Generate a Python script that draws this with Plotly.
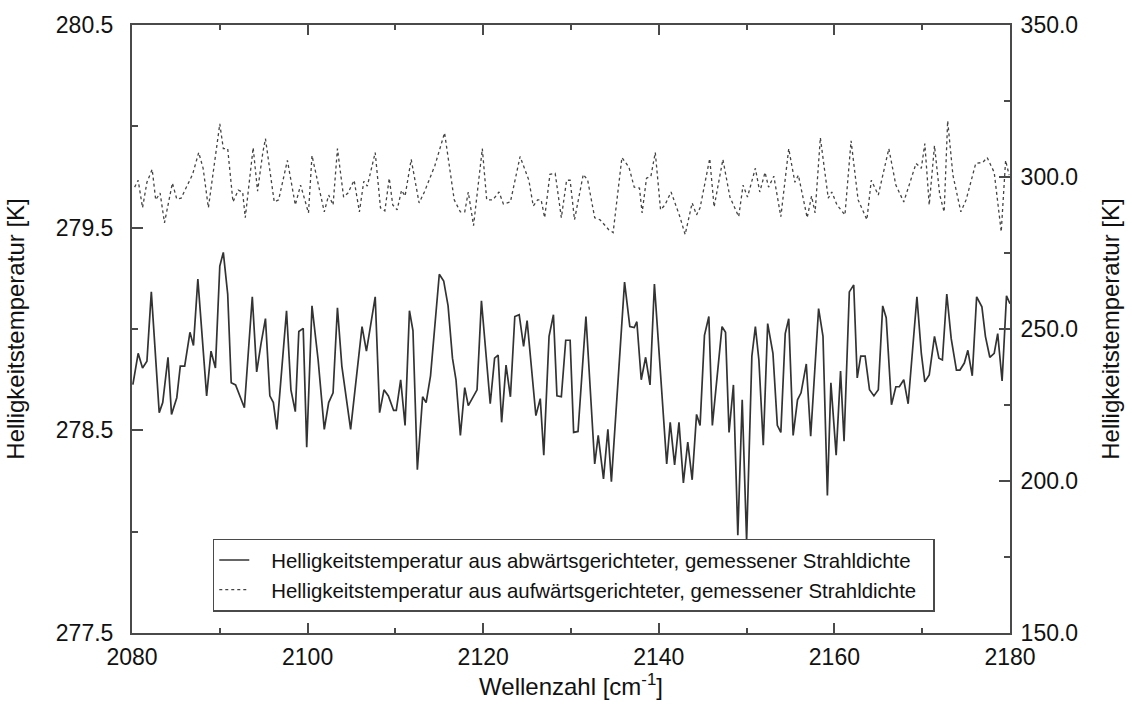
import plotly.graph_objects as go

# Brightness temperature from downward-looking measured radiance (right axis, K)
wn_down = [
    2080.1, 2080.7, 2081.2, 2081.7, 2082.2, 2083.1, 2083.5, 2084.1, 2084.5, 2085.1,
    2085.5, 2086.0, 2086.6, 2087.0, 2087.5, 2088.5, 2089.0, 2089.5, 2090.0, 2090.4,
    2090.9, 2091.3, 2091.8, 2092.3, 2092.8, 2093.7, 2094.2, 2094.7, 2095.2, 2095.7,
    2096.1, 2096.5, 2097.6, 2098.1, 2098.6, 2099.0, 2099.5, 2099.9, 2100.5, 2101.2,
    2101.9, 2102.4, 2102.9, 2103.4, 2103.9, 2104.9, 2106.2, 2106.7, 2107.7, 2108.2,
    2108.7, 2109.2, 2109.8, 2110.1, 2110.6, 2111.1, 2111.6, 2112.0, 2112.5, 2113.1,
    2113.5, 2114.0, 2115.0, 2115.5, 2116.0, 2116.5, 2116.9, 2117.4, 2117.9, 2118.3,
    2119.3, 2119.8, 2120.2, 2120.8, 2121.3, 2121.7, 2122.1, 2122.6, 2123.1, 2123.6,
    2124.1, 2124.6, 2125.0, 2126.0, 2126.5, 2126.9, 2127.5, 2128.0, 2128.4, 2128.9,
    2129.4, 2129.9, 2130.3, 2130.8, 2131.7, 2132.7, 2133.1, 2133.7, 2134.2, 2134.6,
    2136.1, 2136.7, 2137.2, 2137.5, 2138.0, 2138.5, 2139.0, 2139.5, 2140.9, 2141.3,
    2141.8, 2142.3, 2142.8, 2143.3, 2143.8, 2144.3, 2144.7, 2145.2, 2145.7, 2146.1,
    2147.2, 2147.6, 2148.0, 2148.5, 2149.0, 2149.5, 2150.0, 2150.6, 2151.0, 2151.4,
    2151.9, 2152.4, 2153.0, 2153.5, 2153.9, 2154.4, 2154.8, 2155.3, 2155.8, 2156.2,
    2156.8, 2157.3, 2158.2, 2158.7, 2159.2, 2159.6, 2160.2, 2160.7, 2161.1, 2161.7,
    2162.2, 2162.6, 2163.0, 2163.5, 2164.0, 2164.5, 2165.0, 2165.5, 2165.9, 2166.5,
    2167.0, 2167.4, 2167.9, 2168.4, 2169.4, 2169.9, 2170.3, 2170.8, 2171.4, 2171.9,
    2172.3, 2172.8, 2173.3, 2173.9, 2174.3, 2174.8, 2175.2, 2175.7, 2176.2, 2176.8,
    2177.2, 2177.7, 2178.2, 2178.6, 2179.1, 2179.6, 2180.0,
]
tb_down = [
    231.7, 242.0, 237.2, 239.4, 262.2, 222.5, 225.8, 240.7, 221.9, 227.4,
    237.8, 237.8, 248.9, 244.6, 266.4, 228.0, 242.7, 237.2, 270.7, 275.2,
    261.5, 232.3, 231.6, 228.0, 224.1, 260.6, 235.9, 245.3, 253.4, 228.0,
    225.8, 217.0, 256.0, 230.0, 222.8, 249.2, 250.2, 211.1, 257.6, 239.8,
    217.0, 225.8, 229.0, 257.0, 237.8, 217.0, 250.8, 242.7, 260.6, 222.5,
    230.0, 228.0, 223.2, 223.2, 233.3, 218.3, 256.0, 249.5, 203.7, 227.7,
    225.8, 234.6, 268.0, 265.8, 257.6, 240.4, 233.3, 215.0, 230.7, 224.8,
    230.0, 259.3, 246.3, 225.4, 240.4, 241.4, 219.3, 238.1, 227.7, 254.1,
    254.7, 244.3, 252.8, 221.5, 227.1, 208.5, 247.6, 254.7, 228.0, 227.7,
    246.3, 246.3, 216.0, 216.3, 254.1, 205.6, 215.0, 200.7, 217.0, 199.8,
    265.4, 250.8, 250.5, 252.4, 233.3, 240.7, 231.6, 264.8, 205.6, 219.3,
    205.3, 219.3, 199.4, 212.8, 200.4, 221.9, 218.3, 247.9, 254.1, 218.3,
    250.8, 248.9, 216.0, 231.6, 182.2, 226.7, 180.2, 241.1, 250.8, 239.8,
    211.8, 251.8, 242.0, 218.3, 216.0, 248.5, 253.4, 215.0, 226.7, 229.0,
    238.5, 214.7, 256.7, 247.6, 195.2, 232.3, 208.5, 236.2, 213.1, 262.2,
    264.5, 233.9, 241.1, 241.1, 230.0, 228.0, 230.0, 257.6, 253.7, 225.1,
    231.0, 231.0, 233.3, 225.4, 260.6, 242.0, 232.6, 234.9, 247.6, 240.4,
    239.8, 261.5, 246.9, 236.5, 236.5, 238.8, 243.0, 234.6, 260.6, 257.3,
    247.6, 240.7, 242.0, 248.5, 232.9, 260.9, 258.3,
]

# Brightness temperature from upward-looking measured radiance (left axis, K)
wn_up = [
    2080.3, 2080.7, 2081.2, 2081.7, 2082.3, 2082.7, 2083.2, 2083.7, 2084.6, 2085.1,
    2085.6, 2086.9, 2087.6, 2088.1, 2088.7, 2090.0, 2090.4, 2090.9, 2091.5, 2092.1,
    2092.6, 2092.9, 2093.8, 2094.3, 2094.9, 2095.2, 2096.2, 2096.7, 2097.7, 2098.6,
    2099.2, 2100.1, 2100.5, 2101.3, 2101.9, 2102.4, 2102.9, 2103.4, 2104.1, 2104.6,
    2105.3, 2105.9, 2106.4, 2106.8, 2107.7, 2108.3, 2108.8, 2109.3, 2109.7, 2110.2,
    2110.7, 2111.1, 2111.8, 2112.7, 2113.3, 2114.5, 2115.6, 2116.7, 2117.4, 2117.9,
    2118.3, 2118.9, 2119.9, 2120.4, 2121.1, 2121.8, 2122.3, 2123.1, 2124.2, 2125.2,
    2125.7, 2126.2, 2126.6, 2127.0, 2127.6, 2128.2, 2128.9, 2129.5, 2129.9, 2130.4,
    2131.4, 2131.9, 2132.7, 2133.3, 2134.3, 2134.8, 2135.8, 2136.6, 2137.2, 2137.8,
    2138.1, 2138.6, 2139.1, 2139.6, 2140.2, 2140.7, 2141.4, 2142.4, 2143.0, 2143.8,
    2144.3, 2144.7, 2145.8, 2146.3, 2147.3, 2148.1, 2149.1, 2149.6, 2150.1, 2151.0,
    2151.5, 2152.1, 2152.5, 2153.1, 2153.9, 2154.8, 2155.5, 2155.9, 2156.9, 2157.4,
    2157.8, 2158.4, 2159.3, 2159.7, 2160.3, 2161.2, 2161.9, 2162.7, 2163.7, 2164.2,
    2165.0, 2166.2, 2167.0, 2167.9, 2168.8, 2169.3, 2169.9, 2170.3, 2170.8, 2171.4,
    2172.0, 2172.5, 2172.9, 2173.5, 2174.4, 2175.0, 2176.1, 2176.9, 2177.4, 2178.2,
    2179.0, 2179.5, 2179.9,
]
tb_up = [
    279.700, 279.734, 279.598, 279.724, 279.788, 279.637, 279.671, 279.524, 279.720, 279.641,
    279.646, 279.763, 279.871, 279.793, 279.598, 280.012, 279.890, 279.890, 279.627, 279.685,
    279.676, 279.549, 279.895, 279.680, 279.871, 279.939, 279.627, 279.637, 279.832, 279.612,
    279.710, 279.573, 279.856, 279.700, 279.578, 279.661, 279.612, 279.890, 279.651, 279.671,
    279.734, 279.578, 279.729, 279.705, 279.871, 279.598, 279.583, 279.744, 279.612, 279.588,
    279.685, 279.656, 279.837, 279.622, 279.676, 279.807, 279.968, 279.637, 279.578, 279.578,
    279.676, 279.510, 279.890, 279.637, 279.637, 279.676, 279.617, 279.627, 279.851, 279.734,
    279.607, 279.637, 279.637, 279.549, 279.763, 279.768, 279.549, 279.734, 279.734, 279.539,
    279.763, 279.734, 279.549, 279.539, 279.490, 279.476, 279.846, 279.798, 279.700, 279.695,
    279.573, 279.744, 279.754, 279.871, 279.588, 279.612, 279.676, 279.554, 279.466, 279.622,
    279.563, 279.598, 279.841, 279.602, 279.837, 279.651, 279.554, 279.710, 279.651, 279.793,
    279.676, 279.773, 279.700, 279.754, 279.554, 279.890, 279.724, 279.759, 279.549, 279.656,
    279.573, 279.944, 279.646, 279.676, 279.612, 279.563, 279.929, 279.637, 279.539, 279.734,
    279.661, 279.890, 279.710, 279.627, 279.744, 279.817, 279.793, 279.915, 279.612, 279.905,
    279.661, 279.578, 280.027, 279.759, 279.578, 279.637, 279.817, 279.822, 279.846, 279.773,
    279.480, 279.832, 279.759,
]

label_down = "Helligkeitstemperatur aus abwärtsgerichteter, gemessener Strahldichte"
label_up = "Helligkeitstemperatur aus aufwärtsgerichteter, gemessener Strahldichte"

left_ticks = [277.5, 278.5, 279.5, 280.5]
right_ticks = [150.0, 200.0, 250.0, 300.0, 350.0]

FONT = "Liberation Sans, Arial, Helvetica, sans-serif"
AXIS_COLOR = "#4a4a4a"
GAP = "\u00a0\u00a0\u00a0"  # extra room between legend sample line and its text
PAD = "\u00a0\u00a0"        # extra room before the legend's right border

fig = go.Figure()
fig.add_trace(go.Scatter(
    x=wn_down, y=tb_down, yaxis="y2", mode="lines", name=GAP + label_down + PAD,
    line=dict(color="#333333", width=1.7),
))
fig.add_trace(go.Scatter(
    x=wn_up, y=tb_up, yaxis="y", mode="lines", name=GAP + label_up + PAD,
    line=dict(color="#444444", width=1.3, dash="dot"),
))

fig.update_layout(
    width=1132, height=705,
    margin=dict(l=132, r=116, t=18, b=72),
    paper_bgcolor="white", plot_bgcolor="white",
    font=dict(family=FONT, size=24, color="#111111"),
    showlegend=True,
    legend=dict(
        x=0.092, y=0.155, xanchor="left", yanchor="top",
        bgcolor="white", bordercolor=AXIS_COLOR, borderwidth=1.5,
        font=dict(family=FONT, size=20.4, color="#111111"),
        tracegroupgap=0, itemwidth=30,
    ),
    xaxis=dict(
        range=[2080, 2180], tickvals=[2080, 2100, 2120, 2140, 2160, 2180],
        ticktext=["2080", "2100", "2120", "2140", "2160", "2180"],
        ticks="inside", ticklen=10, tickwidth=1.5, tickcolor=AXIS_COLOR,
        minor=dict(dtick=10, ticks="inside", ticklen=5, tickwidth=1.5, tickcolor=AXIS_COLOR),
        showline=True, linecolor=AXIS_COLOR, linewidth=2, mirror="ticks",
        showgrid=False, zeroline=False,
        tickfont=dict(size=23), ticklabelstandoff=2,
        title=dict(text="Wellenzahl [cm<sup>-1</sup>]", font=dict(size=24), standoff=4),
    ),
    yaxis=dict(
        range=[277.5, 280.5], tickvals=left_ticks,
        ticktext=[f"{v:.1f}" for v in left_ticks],
        ticks="inside", ticklen=11, tickwidth=1.5, tickcolor=AXIS_COLOR,
        minor=dict(dtick=0.5, tick0=277.5, ticks="inside", ticklen=6, tickwidth=1.5, tickcolor=AXIS_COLOR),
        showline=True, linecolor=AXIS_COLOR, linewidth=2,
        showgrid=False, zeroline=False,
        tickfont=dict(size=23), ticklabelstandoff=12,
        title=dict(text="Helligkeitstemperatur [K]", font=dict(size=24), standoff=24),
    ),
    yaxis2=dict(
        range=[150, 350], tickvals=right_ticks,
        ticktext=[f"{v:.1f}" for v in right_ticks],
        overlaying="y", side="right",
        ticks="inside", ticklen=11, tickwidth=1.5, tickcolor=AXIS_COLOR,
        minor=dict(dtick=25, tick0=150, ticks="inside", ticklen=6, tickwidth=1.5, tickcolor=AXIS_COLOR),
        showline=True, linecolor=AXIS_COLOR, linewidth=2,
        showgrid=False, zeroline=False,
        tickfont=dict(size=23), ticklabelstandoff=4,
        title=dict(text="Helligkeitstemperatur [K]", font=dict(size=24), standoff=25),
    ),
)

fig.write_html("out.html")
